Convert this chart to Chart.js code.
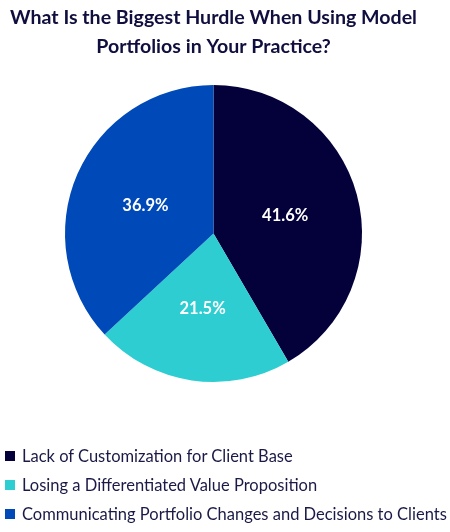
<!DOCTYPE html>
<html>
<head>
<meta charset="utf-8">
<script src="https://cdn.jsdelivr.net/npm/chart.js@4.4.1/dist/chart.umd.min.js"></script>
<style>
  body { margin: 0; background: #fff; }
  #wrap { position: relative; width: 450px; height: 532px; }
  #legend { position: absolute; left: 5px; top: 441px; font-family: Lato, sans-serif; font-size: 16.5px; color: #1b1a47; }
  .item { height: 29px; display: flex; align-items: center; white-space: nowrap; }
  .box { width: 10px; height: 10px; margin-right: 7px; flex: none; }
</style>
</head>
<body>
<div id="wrap">
  <canvas id="myChart" width="450" height="532"></canvas>
  <div id="legend"></div>
</div>
<script>
// DATA
const labels = ["Lack of Customization for Client Base", "Losing a Differentiated Value Proposition", "Communicating Portfolio Changes and Decisions to Clients"];
const values = [41.6, 21.5, 36.9];
const colors = ["#04013a", "#2dcdd2", "#0049b8"];
const titleLines = ["What Is the Biggest Hurdle When Using Model", "Portfolios in Your Practice?"];

// percent labels in the middle of each slice
const sliceLabels = {
    id: "sliceLabels",
    afterDatasetsDraw(chart) {
        const ctx = chart.ctx;
        const meta = chart.getDatasetMeta(0);
        ctx.save();
        ctx.font = "bold 16.5px Lato, sans-serif";
        ctx.fillStyle = "#fff";
        ctx.textAlign = "center";
        ctx.textBaseline = "middle";
        meta.data.forEach((arc, i) => {
            const p = arc.tooltipPosition();
            ctx.fillText(values[i].toFixed(1) + "%", p.x, p.y + 1.5);
        });
        ctx.restore();
    }
};

const config = {
    type: "pie",
    data: {
        labels: labels,
        datasets: [{
            data: values,
            backgroundColor: colors,
            borderWidth: 0
        }]
    },
    options: {
        responsive: false,
        animation: false,
        layout: { padding: { left: 0, right: 23, top: 0, bottom: 150 } },
        plugins: {
            legend: { display: false },
            tooltip: { enabled: false },
            title: {
                display: true,
                text: titleLines,
                color: "#0f0e3e",
                font: { family: "Lato, sans-serif", size: 19.6, weight: "bold", lineHeight: 1.5 },
                padding: { top: 2.5, bottom: 23.7 }
            }
        }
    },
    plugins: [sliceLabels]
};

var myChart = new Chart(document.querySelector("#myChart"), config);

// legend list
const legend = document.querySelector("#legend");
labels.forEach((lab, i) => {
    const row = document.createElement("div");
    row.className = "item";
    row.innerHTML = '<span class="box" style="background:' + colors[i] + '"></span><span>' + lab + '</span>';
    legend.appendChild(row);
});
</script>
</body>
</html>
